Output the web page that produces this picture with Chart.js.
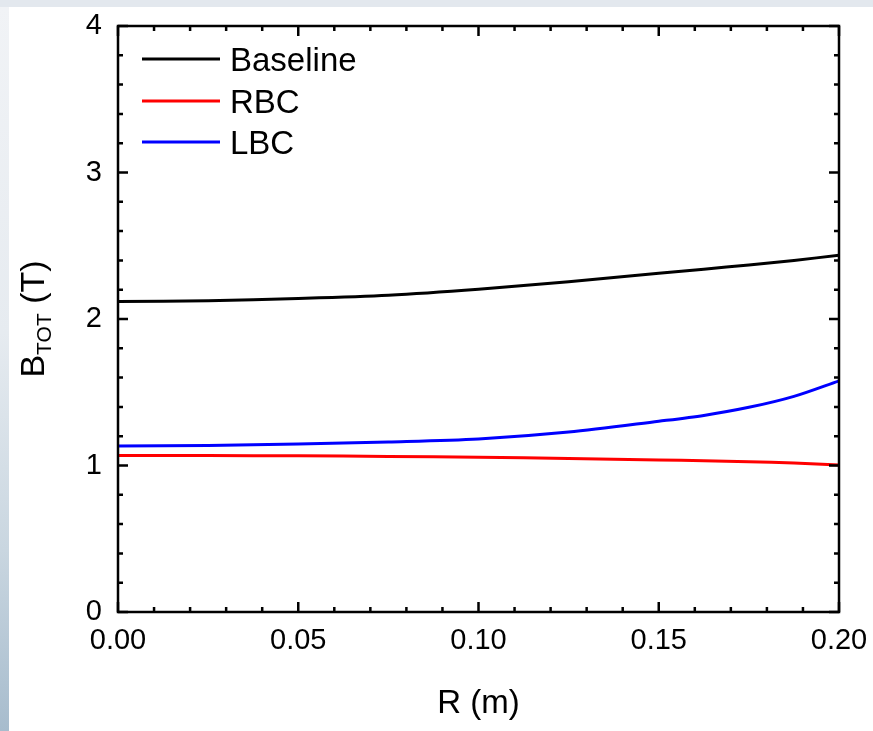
<!DOCTYPE html>
<html>
<head>
<meta charset="utf-8">
<script src="https://cdn.jsdelivr.net/npm/chart.js@4.4.0/dist/chart.umd.min.js"></script>
<style>
    body { margin: 0; background: #fff; }
    #wrap { position: relative; width: 873px; height: 731px; overflow: hidden; }
    #topStrip { position: absolute; left: 0; top: 0; width: 873px; height: 7px; background: #e3e8ee; }
    #leftStrip { position: absolute; left: 0; top: 7px; width: 9px; height: 724px;
        background: linear-gradient(to bottom, #f1f3f6 0%, #e6ebf0 45%, #c9d6e0 75%, #a7bccd 100%); }
    #myChart { position: absolute; left: 0; top: 0; }
</style>
</head>
<body>
<div id="wrap">
    <div id="topStrip"></div>
    <div id="leftStrip"></div>
    <canvas id="myChart" width="873" height="731"></canvas>
</div>
<script>
// R positions (m)
const rValues = [0, 0.025, 0.05, 0.075, 0.1, 0.125, 0.15, 0.1625, 0.175, 0.1875, 0.2];
// B_TOT (T) per case
const baseline = [2.12, 2.125, 2.14, 2.162, 2.203, 2.255, 2.312, 2.34, 2.369, 2.4, 2.435];
const rbc = [1.069, 1.068, 1.066, 1.062, 1.056, 1.048, 1.038, 1.032, 1.025, 1.017, 1.003];
const lbc = [1.133, 1.137, 1.147, 1.161, 1.181, 1.228, 1.302, 1.342, 1.397, 1.472, 1.578];

const seriesNames = ["Baseline", "RBC", "LBC"];
const seriesColors = ["#000000", "#ff0000", "#0000ff"];

const FONT = "Arial, 'Liberation Sans', sans-serif";

function toPoints(values) {
    return values.map((v, i) => ({ x: rValues[i], y: v }));
}

// frame, inward ticks on all four sides, legend and axis titles
const decorPlugin = {
    id: "decor",
    afterDraw(chart) {
        const ctx = chart.ctx;
        const area = chart.chartArea;
        const xs = chart.scales.x;
        const ys = chart.scales.y;
        ctx.save();
        ctx.strokeStyle = "#000";
        ctx.lineWidth = 2.5;
        ctx.strokeRect(area.left, area.top, area.right - area.left, area.bottom - area.top);

        ctx.beginPath();
        for (let i = 0; i <= 20; i++) {
            const px = xs.getPixelForValue(i * 0.01);
            const len = i % 5 === 0 ? 10 : 5;
            ctx.moveTo(px, area.bottom);
            ctx.lineTo(px, area.bottom - len);
            ctx.moveTo(px, area.top);
            ctx.lineTo(px, area.top + len);
        }
        for (let i = 0; i <= 20; i++) {
            const py = ys.getPixelForValue(i * 0.2);
            const len = i % 5 === 0 ? 10 : 5;
            ctx.moveTo(area.left, py);
            ctx.lineTo(area.left + len, py);
            ctx.moveTo(area.right, py);
            ctx.lineTo(area.right - len, py);
        }
        ctx.stroke();

        // legend
        ctx.textBaseline = "alphabetic";
        ctx.textAlign = "left";
        ctx.font = "33px " + FONT;
        const rowY = [59, 101, 142];
        chart.data.datasets.forEach((ds, i) => {
            ctx.strokeStyle = ds.borderColor;
            ctx.lineWidth = 3;
            ctx.beginPath();
            ctx.moveTo(142, rowY[i]);
            ctx.lineTo(220, rowY[i]);
            ctx.stroke();
            ctx.fillStyle = "#000";
            ctx.fillText(ds.label, 230, rowY[i] + 12);
        });

        // x title
        ctx.font = "33px " + FONT;
        ctx.textAlign = "center";
        ctx.fillText("R (m)", (area.left + area.right) / 2, 713);

        // y title with subscript
        const big = "34px " + FONT;
        const small = "21px " + FONT;
        ctx.font = big;
        const wB = ctx.measureText("B").width;
        const wT = ctx.measureText(" (T)").width;
        ctx.font = small;
        const wSub = ctx.measureText("TOT").width;
        const total = wB + wSub + wT;
        ctx.translate(44, (area.top + area.bottom) / 2);
        ctx.rotate(-Math.PI / 2);
        ctx.textAlign = "left";
        let x0 = -total / 2;
        ctx.font = big;
        ctx.fillText("B", x0, 0);
        x0 += wB;
        ctx.font = small;
        ctx.fillText("TOT", x0, 7);
        x0 += wSub;
        ctx.font = big;
        ctx.fillText(" (T)", x0, 0);
        ctx.restore();
    },
};

const ctx = document.getElementById("myChart").getContext("2d");
const chart = new Chart(ctx, {
    type: "line",
    data: {
        datasets: [baseline, rbc, lbc].map((vals, i) => ({
            label: seriesNames[i],
            data: toPoints(vals),
            borderColor: seriesColors[i],
            backgroundColor: seriesColors[i],
            borderWidth: 3,
            pointRadius: 0,
            tension: 0.3,
            fill: false,
        })),
    },
    options: {
        responsive: false,
        animation: false,
        devicePixelRatio: 1,
        layout: { padding: { top: 26, right: 34, left: 0, bottom: 0 } },
        plugins: {
            legend: { display: false },
            tooltip: { enabled: false },
        },
        scales: {
            x: {
                type: "linear",
                min: 0,
                max: 0.2,
                grid: { display: false },
                border: { display: false },
                ticks: {
                    stepSize: 0.05,
                    autoSkip: false,
                    maxRotation: 0,
                    padding: 4,
                    color: "#000",
                    font: { family: FONT, size: 29 },
                    callback: (v) => Number(v).toFixed(2),
                },
                afterFit: (scale) => { scale.height = 119; },
            },
            y: {
                min: 0,
                max: 4,
                grid: { display: false },
                border: { display: false },
                ticks: {
                    stepSize: 1,
                    padding: 8,
                    color: "#000",
                    font: { family: FONT, size: 29 },
                },
                afterFit: (scale) => { scale.width = 118; },
            },
        },
    },
    plugins: [decorPlugin],
});
</script>
</body>
</html>
